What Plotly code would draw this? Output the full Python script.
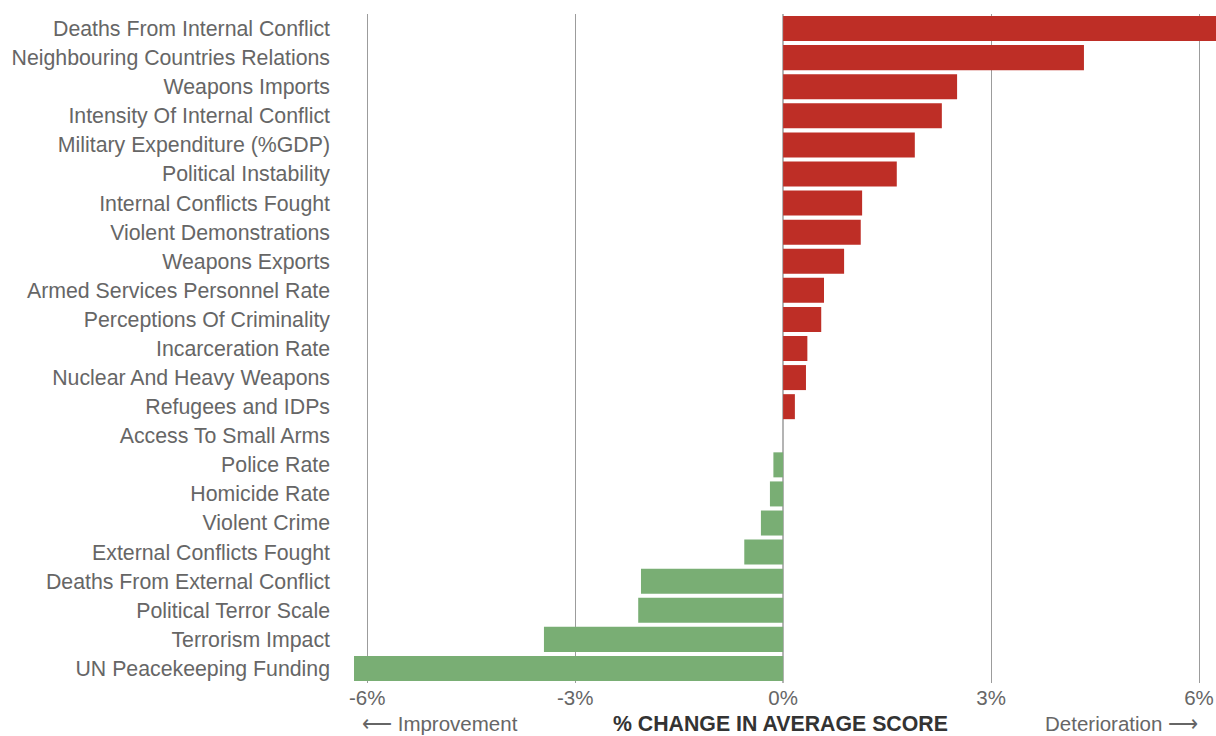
import plotly.graph_objects as go

categories = [
    "Deaths From Internal Conflict", "Neighbouring Countries Relations", "Weapons Imports",
    "Intensity Of Internal Conflict", "Military Expenditure (%GDP)", "Political Instability",
    "Internal Conflicts Fought", "Violent Demonstrations", "Weapons Exports",
    "Armed Services Personnel Rate", "Perceptions Of Criminality", "Incarceration Rate",
    "Nuclear And Heavy Weapons", "Refugees and IDPs", "Access To Small Arms",
    "Police Rate", "Homicide Rate", "Violent Crime", "External Conflicts Fought",
    "Deaths From External Conflict", "Political Terror Scale", "Terrorism Impact",
    "UN Peacekeeping Funding",
]
values = [6.30, 4.34, 2.51, 2.29, 1.90, 1.64, 1.14, 1.12, 0.88, 0.59, 0.55, 0.35,
          0.33, 0.17, 0.0, -0.14, -0.19, -0.32, -0.56, -2.05, -2.09, -3.45, -6.19]
tick_vals = [-6, -3, 0, 3, 6]

RED = "#BE2E26"
GREEN = "#79AE74"
colors = [RED if v > 0 else GREEN for v in values]

fig = go.Figure(go.Bar(
    x=values, y=categories, orientation="h",
    marker=dict(color=colors, line=dict(width=0)),
    hoverinfo="x+y",
))

FONT = "Liberation Sans, Arial, Helvetica, sans-serif"

fig.update_layout(
    width=1216, height=736,
    margin=dict(l=345, r=0, t=14, b=53),
    plot_bgcolor="white", paper_bgcolor="white",
    bargap=0.14,
    showlegend=False,
    font=dict(family=FONT, color="#666666"),
    xaxis=dict(
        range=[-6.32, 6.245],
        tickvals=tick_vals, ticktext=[f"{v}%" for v in tick_vals],
        showgrid=True, gridcolor="#9c9c9c", gridwidth=1.2,
        zeroline=True, zerolinecolor="#b4b4b4", zerolinewidth=2,
        tickfont=dict(size=20.5, color="#666666"),
        ticks="", showline=False,
    ),
    yaxis=dict(
        autorange="reversed",
        tickfont=dict(size=21.3, color="#666666"),
        ticks="", showgrid=False, showline=False,
        ticklabelstandoff=14,
    ),
    annotations=[
        dict(text="\u27f5 Improvement", x=-6.1, xref="x", xanchor="left",
             y=-0.061, yref="paper", yanchor="middle", showarrow=False,
             font=dict(size=20.5, color="#666666", family=FONT)),
        dict(text="<b>% CHANGE IN AVERAGE SCORE</b>", x=-0.04, xref="x", xanchor="center",
             y=-0.061, yref="paper", yanchor="middle", showarrow=False,
             font=dict(size=21.3, color="#333333", family=FONT)),
        dict(text="Deterioration \u27f6", x=6.02, xref="x", xanchor="right",
             y=-0.061, yref="paper", yanchor="middle", showarrow=False,
             font=dict(size=20.5, color="#666666", family=FONT)),
    ],
)

fig.write_html(
    "out.html",
    config={"displayModeBar": False},
    post_script="document.body.style.margin='0';document.body.style.overflow='hidden';",
)
